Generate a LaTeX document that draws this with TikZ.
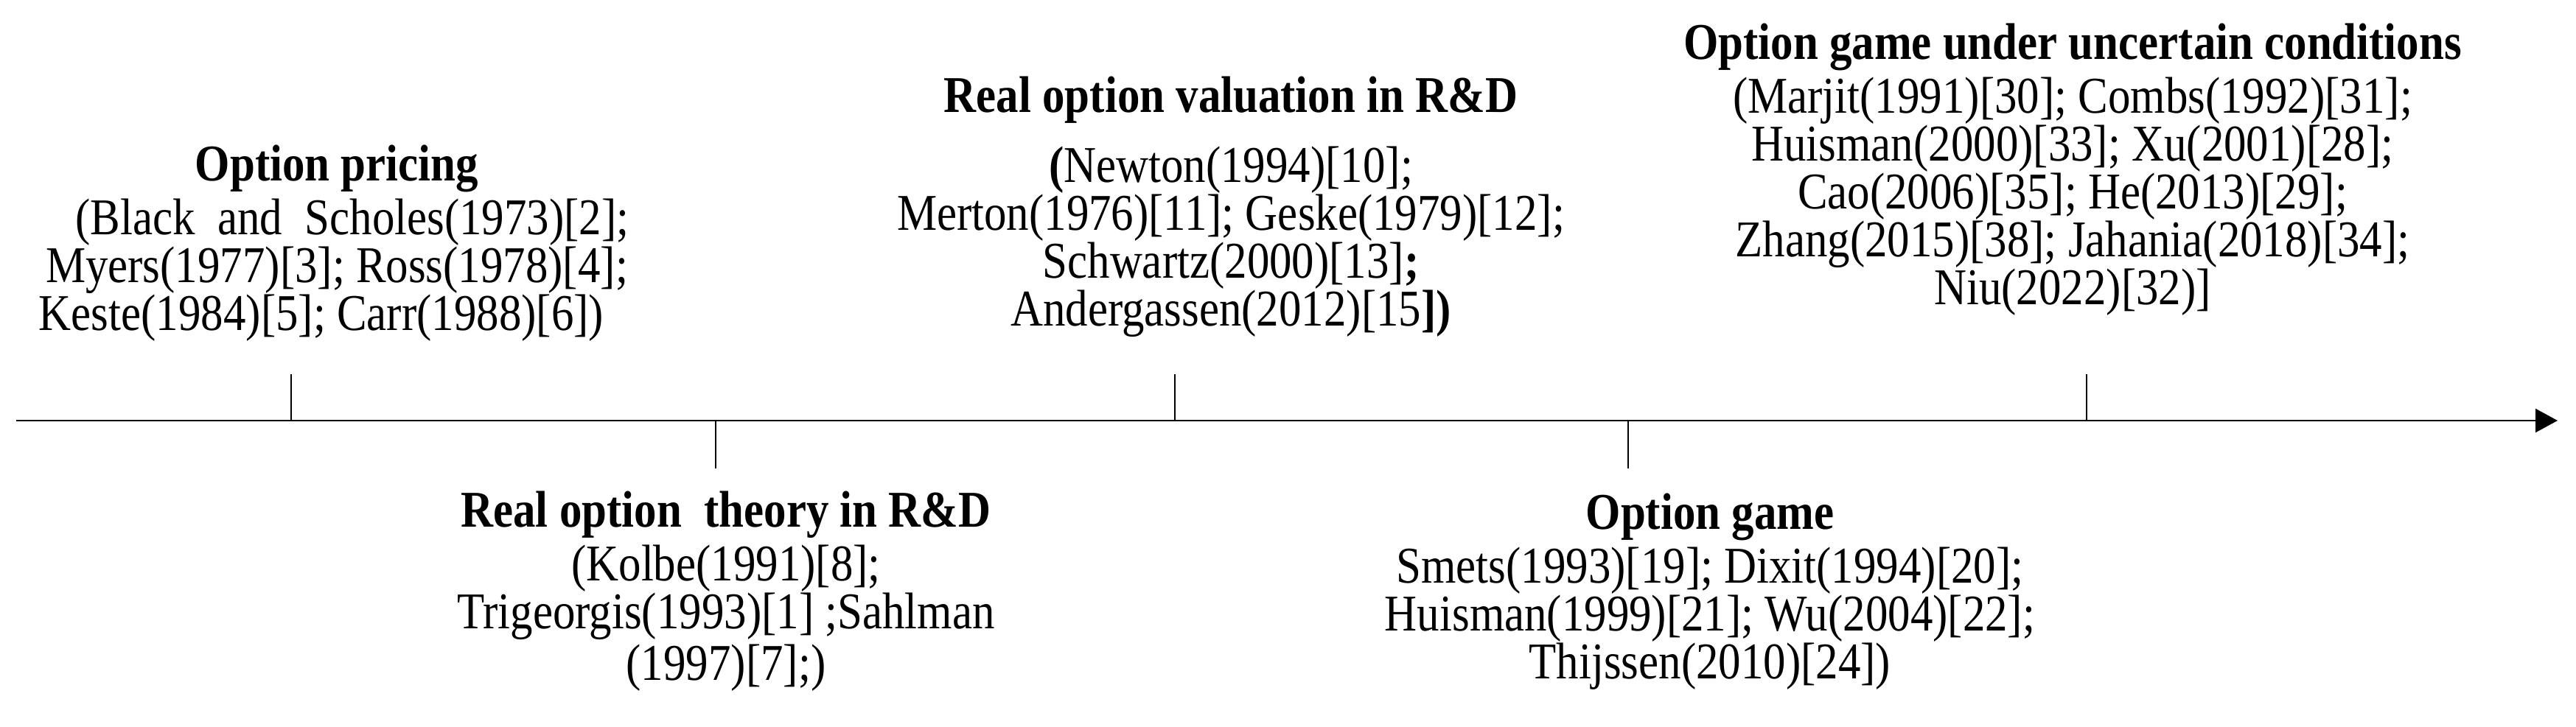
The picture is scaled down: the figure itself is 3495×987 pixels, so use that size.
\documentclass[tikz,border=0pt]{standalone}
\usepackage{fontspec}
\setmainfont{Liberation Serif}[FakeStretch=0.87]
\usetikzlibrary{arrows.meta}
\tikzset{
  block/.style={align=center, inner sep=0pt, anchor=north,
    font=\fontsize{14pt}{13pt}\selectfont},
  axisline/.style={line width=0.5pt, -{Triangle[length=6pt,width=6.4pt]}},
  tick/.style={line width=0.3pt}
}
\begin{document}
\begin{tikzpicture}[x=0.2pt,y=-0.2pt]
\useasboundingbox (0,0) rectangle (3495,987);
% axis
\coordinate (a0) at (22,571);
\coordinate (a1) at (3470,571);
\draw[axisline] (a0) -- (a1);
% ticks
\foreach \n/\x/\y in {t1/395/508, t3/1594/508, t5/2831/508, t2/971/636, t4/2209/636}{
  \coordinate (\n top) at (\x,\y);
  \coordinate (\n base) at (\x,571);
  \draw[tick] (\n base) -- (\n top);
}
% texts
\node[block] (b1) at (457,196) {\strut\textbf{Option pricing}\\
\hspace*{0.6em}(Black\ \ and\ \ Scholes(1973)[2];\\
Myers(1977)[3]; Ross(1978)[4];\\
Keste(1984)[5]; Carr(1988)[6])\hspace*{0.6em}};
\node[block] (b2) at (1670,103) {\strut\textbf{Real option valuation in R\&D}\\[4.4pt]
\textbf{(}Newton(1994)[10];\\
Merton(1976)[11]; Geske(1979)[12];\\
Schwartz(2000)[13]\textbf{;}\\
Andergassen(2012)[15\textbf{])}};
\node[block] (b3) at (2812,31) {\strut\textbf{Option game under uncertain conditions}\\
(Marjit(1991)[30]; Combs(1992)[31];\\
Huisman(2000)[33]; Xu(2001)[28];\\
Cao(2006)[35]; He(2013)[29];\\
Zhang(2015)[38]; Jahania(2018)[34];\\
Niu(2022)[32)]};
\node[block] (b4) at (985,666) {\strut\textbf{Real option\ \ theory in R\&D}\\
(Kolbe(1991)[8];\\
Trigeorgis(1993)[1] ;Sahlman\\[1pt]
(1997)[7];)};
\node[block] (b5) at (2320,669) {\strut\textbf{Option game}\\
Smets(1993)[19]; Dixit(1994)[20];\\
Huisman(1999)[21]; Wu(2004)[22];\\
Thijssen(2010)[24])};
\end{tikzpicture}
\end{document}
